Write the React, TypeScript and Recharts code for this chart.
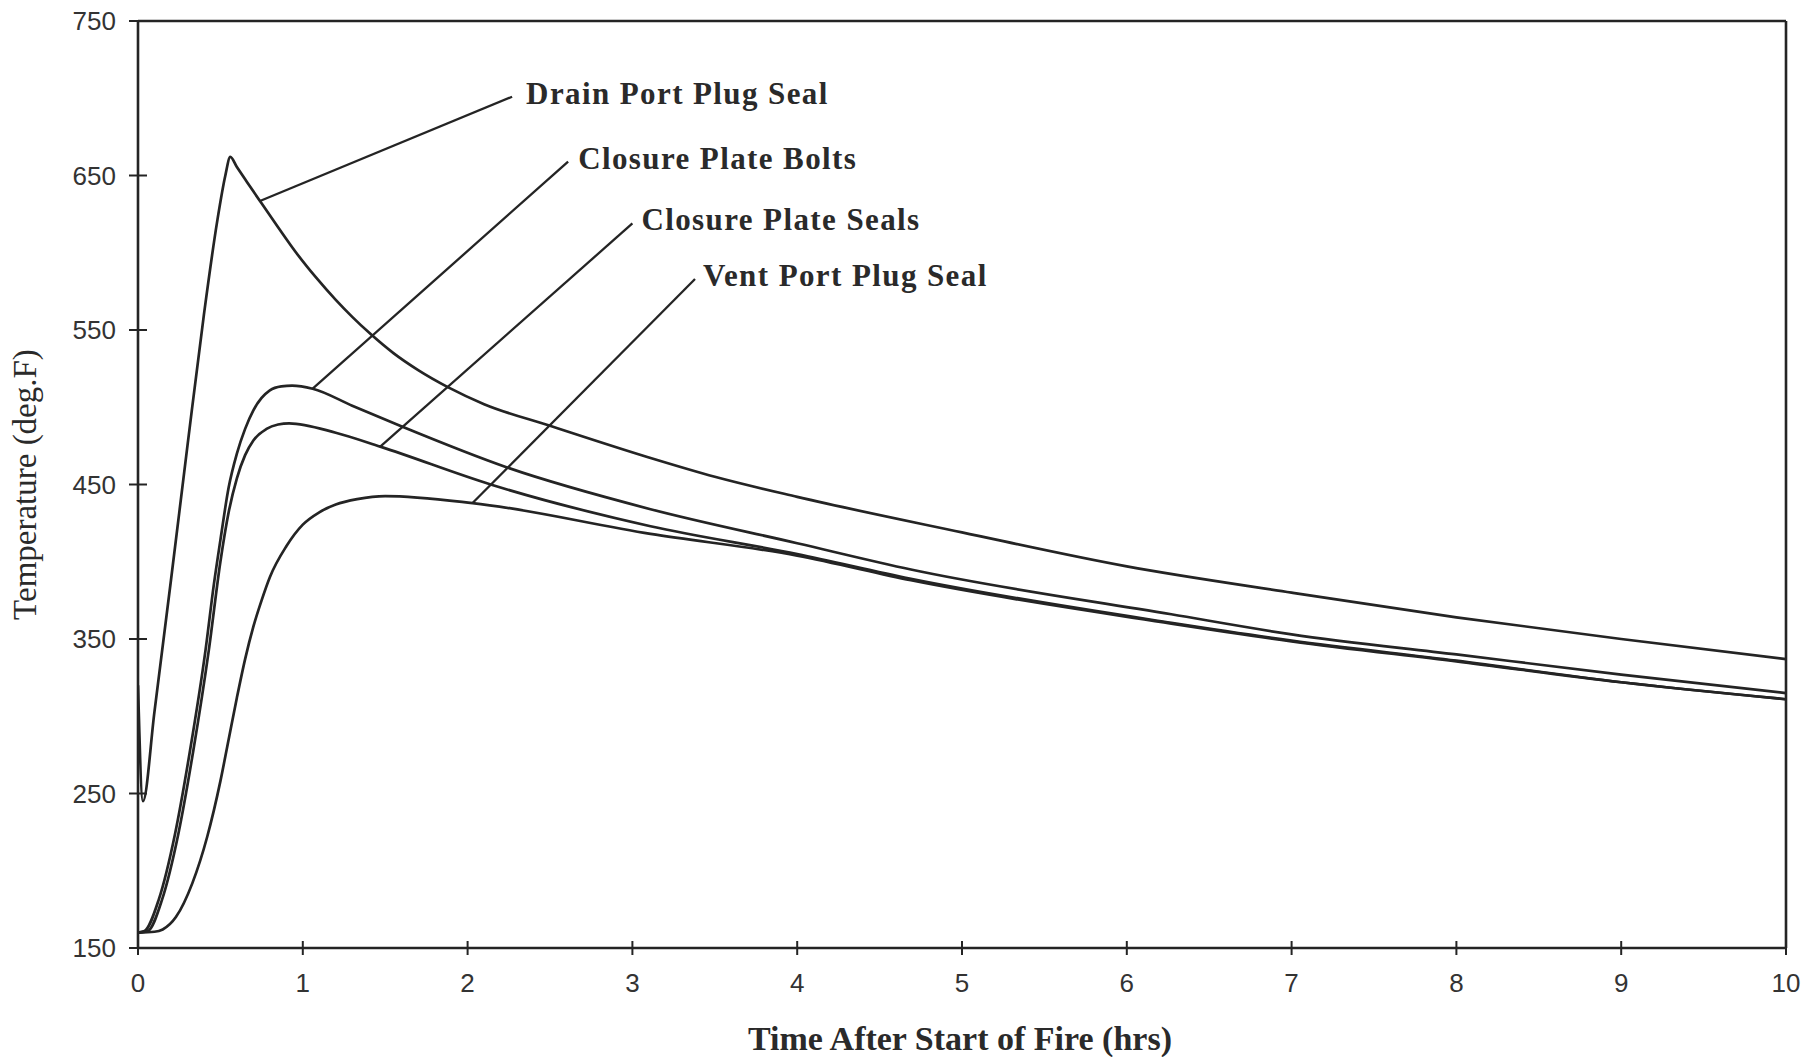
import React from 'react';
import { LineChart, Line, XAxis, YAxis, ReferenceLine, ReferenceDot, Label } from 'recharts';

// ---- data ----
const xTicks = [0, 1, 2, 3, 4, 5, 6, 7, 8, 9, 10];
const yTicks = [150, 250, 350, 450, 550, 650, 750];

const drainT = [0, 0.03, 0.1, 0.2, 0.3, 0.4, 0.48, 0.53, 0.56, 0.6, 0.66, 0.74, 0.85, 0.96, 1.08, 1.2, 1.3, 1.41, 1.55, 1.7, 1.88, 2.1, 2.5, 3.1, 3.5, 4, 5, 6, 7, 8, 9, 10];
const drainV = [320, 245, 303, 388, 475, 560, 620, 650, 662, 655.5, 646, 633.5, 616.5, 600, 584, 569.5, 558.5, 547.5, 535, 524, 513, 502, 488, 467.5, 455, 442, 419, 397, 380, 364, 350, 337];

const boltsT = [0, 0.04, 0.125, 0.225, 0.316, 0.41, 0.46, 0.5, 0.55, 0.6, 0.65, 0.7, 0.75, 0.8, 0.87, 0.935, 1.06, 1.3, 1.59, 2.24, 3.11, 4, 4.69, 6.27, 7, 8, 9, 10];
const boltsV = [160, 161, 181, 224, 278, 343, 385, 414, 448, 470, 486, 498, 506, 511, 513.5, 514, 512, 501, 488, 461, 434, 412, 395, 366, 353, 340, 327, 315];

const sealsT = [0, 0.06, 0.145, 0.245, 0.336, 0.43, 0.5, 0.55, 0.6, 0.65, 0.7, 0.78, 0.85, 0.917, 1.2, 1.47, 2.14, 3.11, 4, 4.69, 6.27, 7, 8, 9, 10];
const sealsV = [160, 161, 181, 224, 278, 343, 400, 432, 454, 469, 478.5, 486, 488.8, 489.6, 483.5, 474.5, 450, 423, 405, 389, 360.5, 349, 336, 322, 311];

const ventT = [0, 0.1, 0.15, 0.23, 0.33, 0.42, 0.5, 0.55, 0.6, 0.65, 0.7, 0.75, 0.8, 0.9, 1.0, 1.1, 1.2, 1.33, 1.5, 2.03, 3.11, 4, 4.69, 6.27, 7, 8, 9, 10];
const ventV = [160, 160.5, 162, 170, 192, 222, 258, 285, 312, 337, 358, 375, 390, 410, 424, 432, 437, 440.5, 442.5, 438, 418, 404, 388, 360, 348.5, 335.5, 322, 311];

const labelNames = ['Drain Port Plug Seal', 'Closure Plate Bolts', 'Closure Plate Seals', 'Vent Port Plug Seal'];
const leaderFromT = [0.74, 1.06, 1.47, 2.03];
const leaderFromV = [633.5, 512, 474.5, 438];
const leaderToT = [2.27, 2.61, 3.0, 3.38];
const leaderToV = [701, 659, 619, 583];

const toPoints = (ts: number[], vs: number[]) => ts.map((t, i) => ({ t, v: vs[i] }));
const drain = toPoints(drainT, drainV);
const bolts = toPoints(boltsT, boltsV);
const seals = toPoints(sealsT, sealsV);
const vent = toPoints(ventT, ventV);

const INK = '#242424';
const SANS = '"Liberation Sans", Arial, sans-serif';
const SERIF = '"Liberation Serif", "Times New Roman", serif';

const YTick = (props: any) => {
  const { x, y, payload } = props;
  return (
    <g>
      <line x1={x - 9} x2={x + 9} y1={y} y2={y} stroke={INK} strokeWidth={2} />
      <text x={x - 22} y={y} dy="0.36em" textAnchor="end" fontFamily={SANS} fontSize={26} fill="#333">
        {payload.value}
      </text>
    </g>
  );
};

const XTick = (props: any) => {
  const { x, y, payload } = props;
  return (
    <g>
      <line x1={x} x2={x} y1={y - 7} y2={y + 7} stroke={INK} strokeWidth={2} />
      <text x={x} y={y + 44} textAnchor="middle" fontFamily={SANS} fontSize={26} fill="#333">
        {payload.value}
      </text>
    </g>
  );
};

const labelDx = [14, 10, 9, 8];
const makeLabelShape = (name: string, dx: number) => (p: any) => (
  <text
    x={p.cx + dx}
    y={p.cy + 7}
    fontFamily={SERIF}
    fontWeight="bold"
    fontSize={31}
    letterSpacing={1.4}
    fill="#2a2a2a"
  >
    {name}
  </text>
);

export default function App() {
  return (
    <div style={{ position: 'absolute', left: 0, top: 0, background: '#fff' }}>
      <LineChart width={1811} height={1057} margin={{ top: 21, right: 25, bottom: 0, left: 0 }}>
        <XAxis
          dataKey="t"
          type="number"
          domain={[0, 10]}
          ticks={xTicks}
          allowDataOverflow
          height={109}
          tickSize={0}
          tickMargin={0}
          tickLine={false}
          axisLine={{ stroke: INK, strokeWidth: 2.6 }}
          tick={<XTick />}
          interval={0}
        >
          <Label
            content={(lp: any) => {
              const vb = lp.viewBox;
              return (
                <text
                  x={vb.x + vb.width / 2 - 2}
                  y={vb.y + 102}
                  textAnchor="middle"
                  fontFamily={SERIF}
                  fontWeight="bold"
                  fontSize={34}
                  fill="#2a2a2a"
                >
                  Time After Start of Fire (hrs)
                </text>
              );
            }}
          />
        </XAxis>
        <YAxis
          dataKey="v"
          type="number"
          domain={[150, 750]}
          ticks={yTicks}
          allowDataOverflow
          width={138}
          tickSize={0}
          tickMargin={0}
          tickLine={false}
          axisLine={{ stroke: INK, strokeWidth: 2.6 }}
          tick={<YTick />}
          interval={0}
        >
          <Label
            content={(lp: any) => {
              const vb = lp.viewBox;
              const cx = 36;
              const cy = vb.y + vb.height / 2;
              return (
                <text
                  x={cx}
                  y={cy}
                  transform={`rotate(-90, ${cx}, ${cy})`}
                  textAnchor="middle"
                  fontFamily={SERIF}
                  fontSize={33}
                  fill="#2a2a2a"
                >
                  Temperature (deg.F)
                </text>
              );
            }}
          />
        </YAxis>

        <ReferenceLine y={750} stroke={INK} strokeWidth={2.6} />
        <ReferenceLine x={10} stroke={INK} strokeWidth={2.6} />

        <Line data={drain} dataKey="v" type="monotone" dot={false} stroke={INK} strokeWidth={2.7} isAnimationActive={false} />
        <Line data={bolts} dataKey="v" type="monotone" dot={false} stroke={INK} strokeWidth={2.7} isAnimationActive={false} />
        <Line data={seals} dataKey="v" type="monotone" dot={false} stroke={INK} strokeWidth={2.7} isAnimationActive={false} />
        <Line data={vent} dataKey="v" type="monotone" dot={false} stroke={INK} strokeWidth={2.7} isAnimationActive={false} />

        {labelNames.map((name, i) => (
          <ReferenceLine
            key={'leader' + i}
            segment={[
              { x: leaderFromT[i], y: leaderFromV[i] },
              { x: leaderToT[i], y: leaderToV[i] },
            ]}
            stroke={INK}
            strokeWidth={2.3}
          />
        ))}
        {labelNames.map((name, i) => (
          <ReferenceDot
            key={'label' + i}
            x={leaderToT[i]}
            y={leaderToV[i]}
            r={0}
            shape={makeLabelShape(name, labelDx[i])}
          />
        ))}
      </LineChart>
    </div>
  );
}
